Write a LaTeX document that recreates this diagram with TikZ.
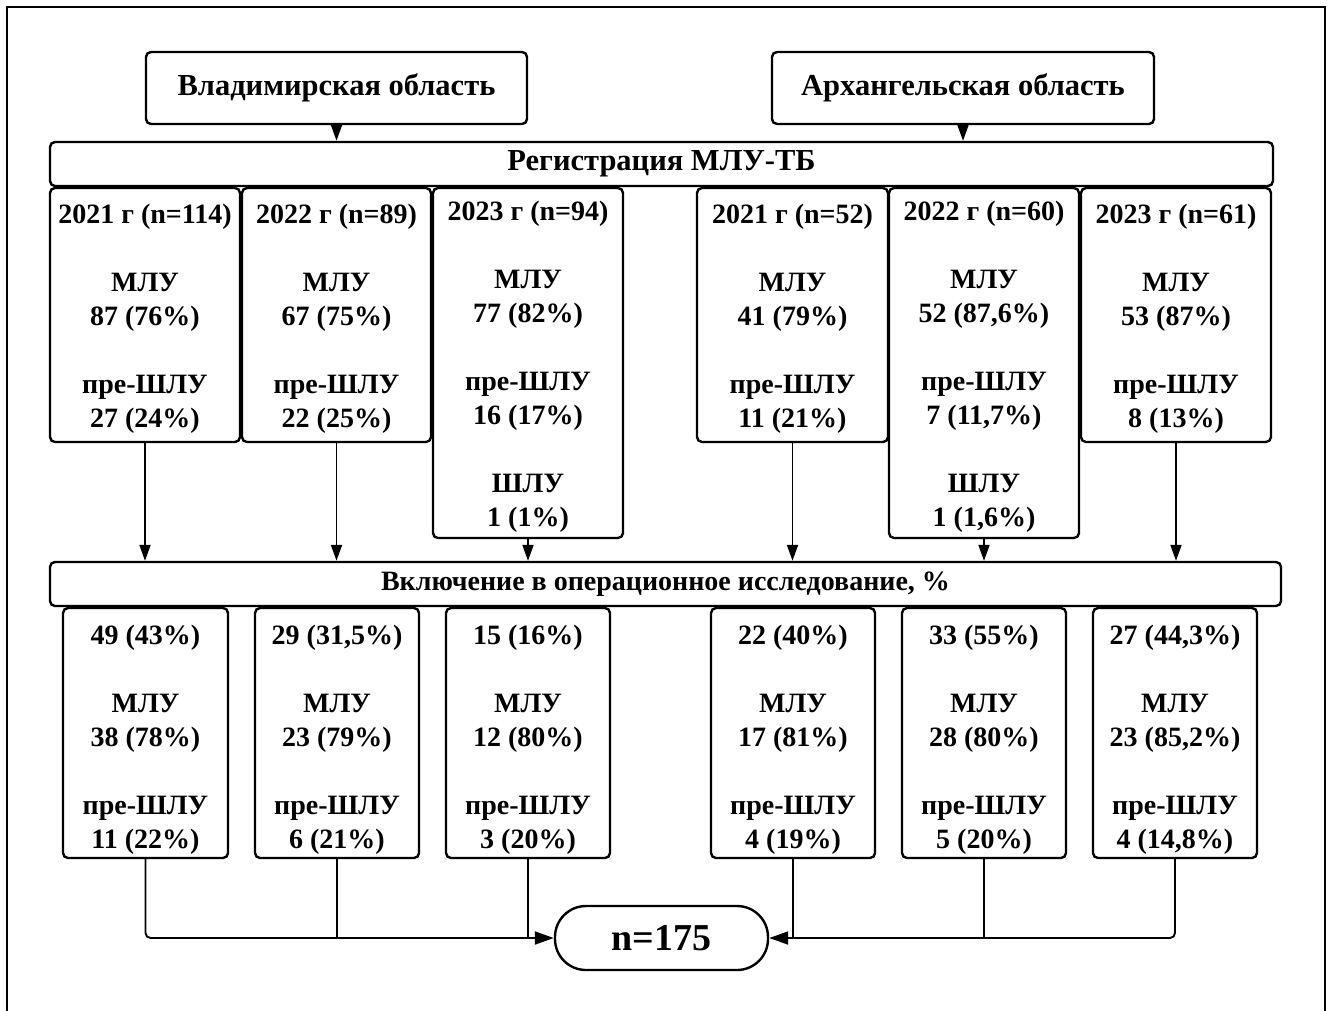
\documentclass[tikz,border=0pt]{standalone}
\usepackage{fontspec}
\setmainfont{Liberation Serif}
\usetikzlibrary{arrows.meta}
\begin{document}
\begin{tikzpicture}[x=1pt,y=-1pt,
  box/.style={draw, line width=2.4pt, rounded corners=5pt, align=center, inner sep=0pt,
    font=\fontsize{28}{34}\selectfont\bfseries},
  big/.style={font=\fontsize{30.5}{34}\selectfont\bfseries},
  txt/.style={align=center, inner sep=0pt, font=\fontsize{28}{34}\selectfont\bfseries},
  conn/.style={line width=1.9pt},
  arr/.style={conn, -{Triangle[width=11pt,length=16pt]}},
  bigarr/.style={conn, rounded corners=5pt, -{Triangle[width=13pt,length=19pt]}}
]
\useasboundingbox (0,0) rectangle (1332,1010);
\draw[line width=2pt] (7,1020) -- (7,7) -- (1325,7) -- (1325,1020);

% region boxes
\node[box, big, minimum width=381pt, minimum height=72pt] (vlad) at (336.5,88) {Владимирская область};
\node[box, big, minimum width=382pt, minimum height=72pt] (arkh) at (963,88) {Архангельская область};

% registration bar
\node[box, big, minimum width=1223pt, minimum height=44pt] (reg) at (661.5,164) {Регистрация МЛУ-ТБ};

% year boxes
\node[box, minimum width=190pt, minimum height=254pt] (b1) at (145,315) {};
\node[box, minimum width=189pt, minimum height=254pt] (b2) at (336.5,315) {};
\node[box, minimum width=190pt, minimum height=350pt] (b3) at (528,363) {};
\node[box, minimum width=191pt, minimum height=254pt] (b4) at (792.5,315) {};
\node[box, minimum width=190pt, minimum height=350pt] (b5) at (984,363) {};
\node[box, minimum width=190pt, minimum height=254pt] (b6) at (1176,315) {};

\node[txt, yshift=-4pt] (b1t) at (b1.center)
  {2021 г (n=114)\\[34pt] МЛУ\\ 87 (76\%)\\[34pt] пре-ШЛУ\\ 27 (24\%)};
\node[txt, yshift=-4pt] (b2t) at (b2.center)
  {2022 г (n=89)\\[34pt] МЛУ\\ 67 (75\%)\\[34pt] пре-ШЛУ\\ 22 (25\%)};
\node[txt, yshift=-4pt] (b3t) at (b3.center)
  {2023 г (n=94)\\[34pt] МЛУ\\ 77 (82\%)\\[34pt] пре-ШЛУ\\ 16 (17\%)\\[34pt] ШЛУ\\ 1 (1\%)};
\node[txt, yshift=-4pt] (b4t) at (b4.center)
  {2021 г (n=52)\\[34pt] МЛУ\\ 41 (79\%)\\[34pt] пре-ШЛУ\\ 11 (21\%)};
\node[txt, yshift=-4pt] (b5t) at (b5.center)
  {2022 г (n=60)\\[34pt] МЛУ\\ 52 (87,6\%)\\[34pt] пре-ШЛУ\\ 7 (11,7\%)\\[34pt] ШЛУ\\ 1 (1,6\%)};
\node[txt, yshift=-4pt] (b6t) at (b6.center)
  {2023 г (n=61)\\[34pt] МЛУ\\ 53 (87\%)\\[34pt] пре-ШЛУ\\ 8 (13\%)};

% inclusion bar
\node[box, minimum width=1231pt, minimum height=44pt] (incl) at (665.5,584) {Включение в операционное исследование, \%};

% bottom boxes
\node[box, minimum width=165pt, minimum height=250pt] (c1) at (145.5,733) {};
\node[box, minimum width=164pt, minimum height=250pt] (c2) at (337,733) {};
\node[box, minimum width=164pt, minimum height=250pt] (c3) at (528,733) {};
\node[box, minimum width=164pt, minimum height=250pt] (c4) at (793,733) {};
\node[box, minimum width=164pt, minimum height=250pt] (c5) at (984,733) {};
\node[box, minimum width=164pt, minimum height=250pt] (c6) at (1175,733) {};

\node[txt, yshift=-7pt] (c1t) at (c1.center)
  {49 (43\%)\\[34pt] МЛУ\\ 38 (78\%)\\[34pt] пре-ШЛУ\\ 11 (22\%)};
\node[txt, yshift=-7pt] (c2t) at (c2.center)
  {29 (31,5\%)\\[34pt] МЛУ\\ 23 (79\%)\\[34pt] пре-ШЛУ\\ 6 (21\%)};
\node[txt, yshift=-7pt] (c3t) at (c3.center)
  {15 (16\%)\\[34pt] МЛУ\\ 12 (80\%)\\[34pt] пре-ШЛУ\\ 3 (20\%)};
\node[txt, yshift=-7pt] (c4t) at (c4.center)
  {22 (40\%)\\[34pt] МЛУ\\ 17 (81\%)\\[34pt] пре-ШЛУ\\ 4 (19\%)};
\node[txt, yshift=-7pt] (c5t) at (c5.center)
  {33 (55\%)\\[34pt] МЛУ\\ 28 (80\%)\\[34pt] пре-ШЛУ\\ 5 (20\%)};
\node[txt, yshift=-7pt] (c6t) at (c6.center)
  {27 (44,3\%)\\[34pt] МЛУ\\ 23 (85,2\%)\\[34pt] пре-ШЛУ\\ 4 (14,8\%)};

% total
\node[box, rounded corners=31pt, minimum width=213pt, minimum height=64pt,
  font=\fontsize{38}{40}\selectfont\bfseries] (tot) at (661.5,938) {n=175};

% arrows top
\draw[arr] (vlad.south) -- (vlad.south |- reg.north);
\draw[arr] (arkh.south) -- (arkh.south |- reg.north);

% arrows year -> inclusion
\foreach \b in {b1,b2,b3,b4,b5,b6}
  \draw[arr] (\b.south) -- (\b.south |- incl.north);

% bottom connectors
\draw[bigarr] (c1.south) |- (tot.west);
\draw[conn] (c2.south) -- (c2.south |- tot.west);
\draw[conn] (c3.south) -- (c3.south |- tot.west);
\draw[bigarr] (c6.south) |- (tot.east);
\draw[conn] (c5.south) -- (c5.south |- tot.east);
\draw[conn] (c4.south) -- (c4.south |- tot.east);
\end{tikzpicture}
\end{document}
